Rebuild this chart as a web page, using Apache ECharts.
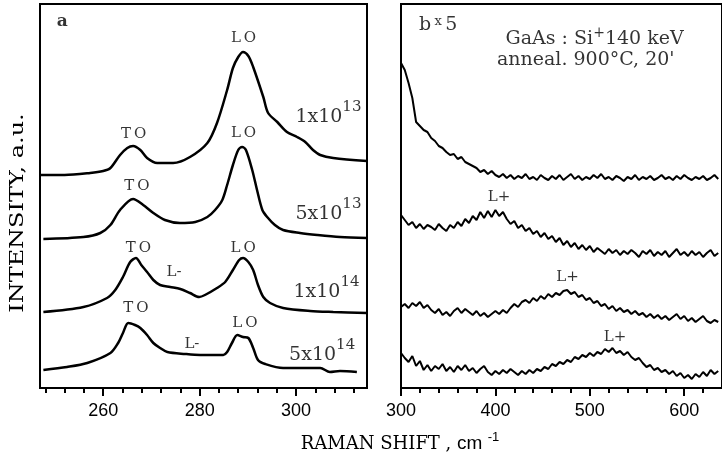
<!DOCTYPE html>
<html><head><meta charset="utf-8">
<script src="https://cdn.jsdelivr.net/npm/echarts@6/dist/echarts.min.js"></script>
<style>html,body{margin:0;padding:0;background:#fff}#c{width:722px;height:461px}</style>
</head><body><div id="c"></div>
<script>
// ---------- Panel a: Raman spectra (offset intensities, a.u.) ----------
const L1x = [246.9,252.0,257.3,260.0,261.5,263.5,265.0,266.2,267.7,269.1,271.2,274.5,278.0,281.6,283.6,285.7,286.9,288.0,289.0,290.1,291.1,293.2,294.2,296.1,298.1,300.2,301.9,303.5,305.0,307.7,314.7];
const L1y = [213,213,215,217,220,233,240,242,238,230,225,225,231,245,265,298,320,331,336,332,321,291,275,266,256,251,246,238,233,230,227];
const L2x = [247.6,255.9,259.4,261.5,263.5,266.2,268.3,270.4,272.8,275.9,279.1,281.6,283.2,284.7,285.7,286.9,288.0,288.8,289.6,290.9,291.9,293.0,294.0,295.6,297.3,300.8,304.4,309.1,314.7];
const L2y = [149,151,155,163,178,189,183,175,168,165,166,171,178,188,203,223,238,241,238,218,198,178,171,163,158,155,153,151,150];
const L3x = [247.6,255.9,260.8,262.5,264.1,265.6,266.8,267.9,269.1,270.4,271.8,273.9,276.0,278.0,279.9,281.1,283.6,285.3,286.9,288.2,289.0,290.1,291.1,292.1,293.2,294.6,297.3,302.9,307.7,314.7];
const L3y = [76,81,90,98,111,126,130,123,116,108,103,101,99,95,91,93,100,106,118,128,130,126,118,103,91,85,80,77,76,75];
const L4x = [247.6,252.5,256.7,261.5,263.1,264.1,265.2,266.6,267.7,269.1,270.4,271.8,273.3,277.0,280.1,284.9,285.7,286.7,287.8,289.0,290.1,291.1,292.1,293.6,297.3,300.8,305.0,307.0,309.1,312.6];
const L4y = [18,21,25,35,45,55,65,63,60,53,45,40,36,34,33,33,36,45,53,51,50,40,28,24,20,20,20,16,17,16];

// ---------- Panel b: x5 spectra ----------
const Rx = [300,304,308,312,316,320,324,328,332,336,340,344,348,352,356,360,364,368,372,376,380,384,388,392,396,400,404,408,412,416,420,424,428,432,436,440,444,448,452,456,460,464,468,472,476,480,484,488,492,496,500,504,508,512,516,520,524,528,532,536,540,544,548,552,556,560,564,568,572,576,580,584,588,592,596,600,604,608,612,616,620,624,628,632,636];
const R1y = [325,318,305,290,266,262,258,256,250,247,242,240,236,233,234,229,231,226,224,222,220,216,218,214,217,213,211,214,210,213,209,212,210,214,209,211,208,213,210,208,212,209,213,208,211,214,209,212,208,211,209,213,210,214,209,211,208,212,210,207,211,209,213,208,211,209,212,208,210,213,209,211,208,212,209,213,210,208,211,209,212,208,210,213,209];
const R2y = [173,168,163,166,160,164,159,163,161,158,164,160,157,163,160,166,162,169,165,172,168,176,170,177,171,178,172,176,169,164,167,160,163,157,160,154,157,151,155,149,152,146,150,143,147,141,145,139,143,138,142,136,140,137,134,139,135,138,133,137,134,138,135,131,137,134,138,132,136,133,137,131,135,139,133,136,132,137,133,136,131,135,138,132,135];
const R3y = [81,84,80,85,82,86,80,83,78,75,79,73,76,72,77,80,75,79,76,73,77,72,75,71,74,77,74,78,75,80,84,81,86,88,85,90,87,92,89,94,91,95,93,97,98,94,96,91,93,88,90,85,87,82,84,79,82,77,80,76,78,74,77,73,75,71,74,70,73,69,72,68,71,74,69,72,67,70,66,69,72,67,65,68,66];
const R4y = [35,30,26,32,22,27,18,23,17,22,19,24,17,21,16,22,18,23,17,20,15,19,22,16,13,17,14,18,15,19,16,13,17,14,18,15,19,17,21,19,24,22,26,24,28,26,31,29,33,31,35,32,36,34,39,36,40,35,37,33,36,31,28,30,25,21,23,18,20,16,18,14,17,12,15,10,13,9,14,11,16,12,18,14,17];

// ---------- Axis ticks ----------
const aMajor = [260,280,300];
const aMinor = [248,252,256,264,268,272,276,284,288,292,296,304,308,312];
const bMajor = [300,400,500,600];
const bMinor = [320,340,360,380,420,440,460,480,520,540,560,580,620];

// ---------- Annotations ----------
const annoAText = ['{a|a}','{t|L\u2009O}','{n|1x10}{s|13}','{t|T\u2009O}','{t|L\u2009O}','{t|T\u2009O}','{n|5x10}{s|13}','{t|T\u2009O}','{t|L-}','{t|L\u2009O}','{n|1x10}{s|14}','{t|T\u2009O}','{t|L-}','{t|L\u2009O}','{n|5x10}{s|14}'];
const annoAX = [251.5,289.1,306.7,266.3,289.1,267.0,306.7,267.3,274.7,289.0,306.3,266.8,278.4,289.4,305.4];
const annoAY = [366,349.5,270.5,254,255,202,173.5,140,116,140,96,80,44,65,33];
const annoBText = ['{g|b} {x|x} {g|5}','{g|GaAs : Si}{p|+}{g|140 keV}','{g|anneal. 900°C, 20\'}','{t|L+}','{t|L+}','{t|L+}'];
const annoBX = [339.3,505.1,495.7,403.9,476.3,526.7];
const annoBY = [363,349,328,190.5,110.5,50.5];

const serif = 'DejaVu Serif';
const rich = {
  a:{fontFamily:serif,fontSize:17,fontWeight:'bold',color:'#000'},
  t:{fontFamily:serif,fontSize:15,color:'#000'},
  n:{fontFamily:serif,fontSize:19,lineHeight:19,color:'#000'},
  s:{fontFamily:serif,fontSize:15,lineHeight:15,padding:[0,0,20,0],color:'#000'},
  g:{fontFamily:serif,fontSize:19,lineHeight:19,color:'#000'},
  x:{fontFamily:serif,fontSize:13,lineHeight:13,padding:[0,0,6,0],color:'#000'},
  p:{fontFamily:serif,fontSize:14,lineHeight:14,padding:[0,0,12,0],color:'#000'}
};

function pairs(xs, ys){ return xs.map((x,i)=>[x, ys[i]]); }
function lineSeries(xi, yi, xs, ys, w, smooth){
  return {type:'line', xAxisIndex:xi, yAxisIndex:yi, data:pairs(xs,ys), symbol:'none', smooth:smooth,
    lineStyle:{color:'#000', width:w}, silent:true, animation:false};
}
function annoSeries(xi, yi, texts, xs, ys){
  return {type:'scatter', xAxisIndex:xi, yAxisIndex:yi, symbolSize:1, itemStyle:{color:'rgba(0,0,0,0)'},
    data: texts.map((t,i)=>({value:[xs[i], ys[i]], name:t})),
    label:{show:true, position:'inside', color:'#000', formatter:p=>p.name, rich:rich}, silent:true, animation:false};
}
function xAx(grid, min, max, vals, len, showLabel){
  return {type:'value', gridIndex:grid, min:min, max:max, position:'bottom',
    axisLine:{show:false}, splitLine:{show:false},
    axisTick:{show:true, customValues:vals, length:len, lineStyle:{color:'#000', width:2}},
    axisLabel:{show:showLabel, customValues:vals, color:'#000', fontFamily:'Liberation Sans', fontSize:18, margin:14}};
}

const chart = echarts.init(document.getElementById('c'), null, {renderer:'canvas'});
chart.setOption({
  animation:false,
  backgroundColor:'#fff',
  grid:[
    {left:40, top:4, width:327, height:384, show:true, borderColor:'#000', borderWidth:2, backgroundColor:'transparent'},
    {left:401, top:4, width:324, height:384, show:true, borderColor:'#000', borderWidth:2, backgroundColor:'transparent'}
  ],
  xAxis:[
    xAx(0, 246.9, 314.7, aMajor, 8, true),
    xAx(0, 246.9, 314.7, aMinor, 5, false),
    xAx(1, 300, 640, bMajor, 8, true),
    xAx(1, 300, 640, bMinor, 5, false)
  ],
  yAxis:[
    {type:'value', gridIndex:0, min:0, max:384, show:false},
    {type:'value', gridIndex:1, min:0, max:384, show:false}
  ],
  series:[
    lineSeries(0,0,L1x,L1y,2.5,0.3),
    lineSeries(0,0,L2x,L2y,2.5,0.3),
    lineSeries(0,0,L3x,L3y,2.5,0.3),
    lineSeries(0,0,L4x,L4y,2.5,0.3),
    lineSeries(3,1,Rx,R1y,2,false),
    lineSeries(3,1,Rx,R2y,2,false),
    lineSeries(3,1,Rx,R3y,2,false),
    lineSeries(3,1,Rx,R4y,2,false),
    annoSeries(0,0,annoAText,annoAX,annoAY),
    annoSeries(3,1,annoBText,annoBX,annoBY)
  ],
  graphic:[
    {type:'text', x:18.5, y:213, rotation:Math.PI/2, scaleX:1.33,
      style:{text:'INTENSITY, a.u.', fontFamily:serif, fontSize:18, fill:'#000', align:'center', verticalAlign:'middle'}},
    {type:'text', x:400, y:444,
      style:{text:'{r|RAMAN SHIFT , }{c|cm }{e|-1}', align:'center', verticalAlign:'middle',
        rich:{r:{fontFamily:serif,fontSize:18,lineHeight:18,fill:'#000'},
              c:{fontFamily:'Liberation Sans',fontSize:19,lineHeight:19,fill:'#000'},
              e:{fontFamily:'Liberation Sans',fontSize:13,lineHeight:13,padding:[0,0,14,0],fill:'#000'}}}}
  ]
});
</script></body></html>
